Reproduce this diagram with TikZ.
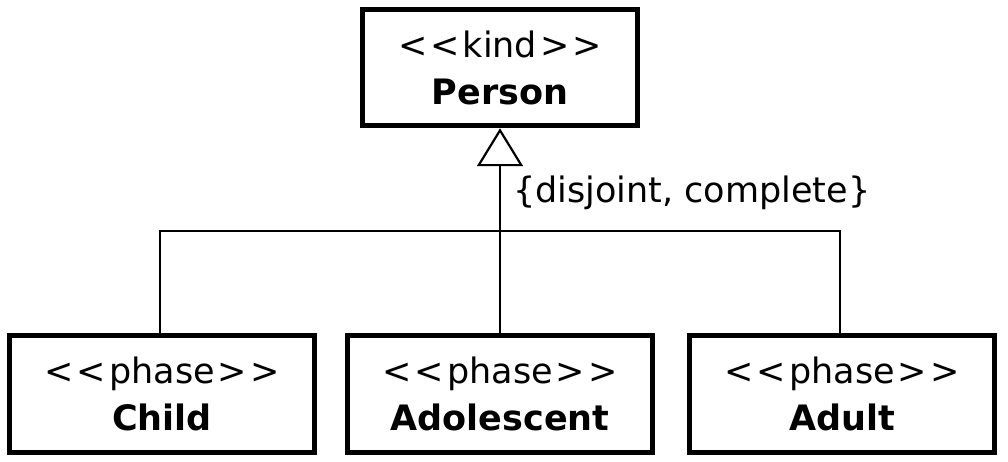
\documentclass[tikz,border=0pt]{standalone}
\usepackage{fontspec}
\setmainfont{DejaVu Sans}
\usetikzlibrary{arrows.meta}
\tikzset{
  umlclass/.style={draw, line width=5.5pt, fill=white, align=center,
    inner sep=0pt, font=\fontsize{35}{47}\selectfont},
  link/.style={line width=2.2pt},
  gen/.style={link, -{Triangle[open, length=38pt, width=46pt, line width=2.2pt]}},
}
\newcommand{\stereo}[1]{<\kern3pt<\kern3pt#1\kern3pt>\kern3pt>}
\begin{document}
\begin{tikzpicture}[x=1pt, y=1pt]
  \useasboundingbox (0,0) rectangle (1008,462);
  \node[umlclass, minimum width=275pt, minimum height=116pt] (person) at (500,394.5)
    {\stereo{kind}\\\textbf{Person}};
  \node[umlclass, minimum width=305pt, minimum height=117pt] (child) at (162,68)
    {\stereo{phase}\\\textbf{Child}};
  \node[umlclass, minimum width=305pt, minimum height=117pt] (adol) at (500,68)
    {\stereo{phase}\\\textbf{Adolescent}};
  \node[umlclass, minimum width=305pt, minimum height=117pt] (adult) at (842,68)
    {\stereo{phase}\\\textbf{Adult}};
  \coordinate (bus) at (500,231);
  \draw[link] (child.north -| 160,0) |- (bus) -| (adult.north -| 840,0);
  \draw[link] (adol.north) -- (bus);
  \draw[gen] (bus) -- (person.south);
  \node[anchor=west, inner sep=0pt, font=\fontsize{35}{40}\selectfont] (constraint) at (513,269)
    {\{disjoint, complete\}};
\end{tikzpicture}
\end{document}
